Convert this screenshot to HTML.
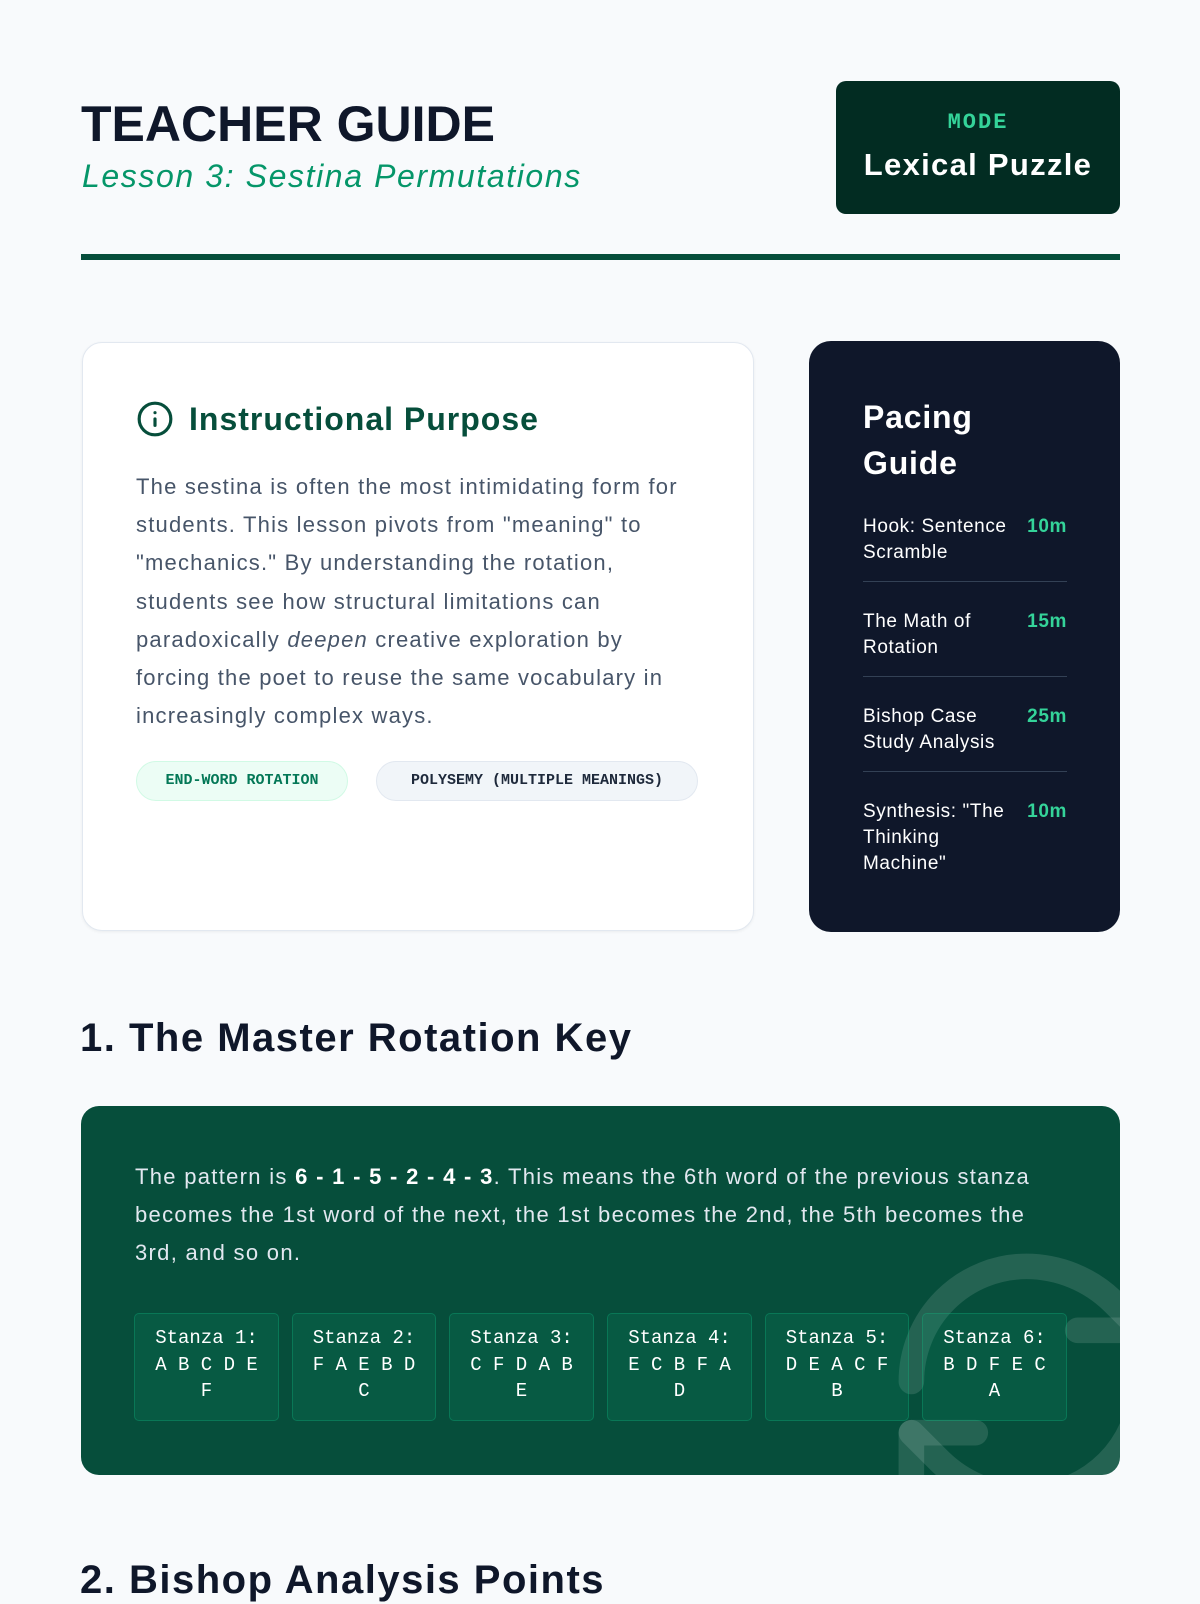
<!DOCTYPE html>
<html><head><meta charset="utf-8"><style>
*{margin:0;padding:0;box-sizing:border-box}
body{width:1200px;height:1600px;background:#f8fafc;font-family:"Liberation Sans",sans-serif;position:relative;overflow:hidden}
.a{position:absolute;white-space:nowrap}
.mono{font-family:"Liberation Mono",monospace}
</style></head><body>
<div class="a" style="left:81px;top:94px;font-size:50px;font-weight:bold;color:#0f172a;letter-spacing:0px;line-height:60px">TEACHER GUIDE</div>
<div class="a" style="left:82px;top:156px;font-size:32px;font-style:italic;color:#059669;line-height:40px;letter-spacing:1.6px">Lesson 3: Sestina Permutations</div>
<div class="a" style="left:836px;top:81px;width:284px;height:133px;background:#022c22;border-radius:10px"></div>
<div class="a mono" style="left:836px;width:284px;top:110px;text-align:center;font-size:22px;font-weight:bold;color:#34d399;letter-spacing:2px;line-height:26px">MODE</div>
<div class="a" style="left:836px;width:284px;top:146px;text-align:center;font-size:31px;font-weight:bold;color:#fff;line-height:38px;letter-spacing:1.3px">Lexical Puzzle</div>
<div class="a" style="left:81px;top:254px;width:1039px;height:6px;background:#064e3b"></div>

<div class="a" style="left:82px;top:342px;width:672px;height:589px;background:#fff;border:1px solid #e2e8f0;border-radius:20px;box-shadow:0 1px 3px rgba(0,0,0,.06)"></div>
<svg class="a" style="left:136px;top:400px" width="38" height="38" viewBox="0 0 24 24" fill="none" stroke="#064e3b" stroke-width="2" stroke-linecap="round"><circle cx="12" cy="12" r="10"/><path d="M12 16v-4M12 8h.01"/></svg>
<div class="a" style="left:189px;top:399px;font-size:32px;font-weight:bold;color:#064e3b;line-height:40px;letter-spacing:1px">Instructional Purpose</div>
<div class="a" style="left:136px;top:468px;font-size:22px;color:#475569;line-height:38.2px;letter-spacing:1.2px">The sestina is often the most intimidating form for<br>students. This lesson pivots from "meaning" to<br>"mechanics." By understanding the rotation,<br>students see how structural limitations can<br>paradoxically <i>deepen</i> creative exploration by<br>forcing the poet to reuse the same vocabulary in<br>increasingly complex ways.</div>
<div class="a mono" style="left:136px;top:761px;width:212px;height:40px;border-radius:20px;background:#ecfdf5;border:1px solid #d1fae5;color:#047857;font-size:15px;font-weight:bold;line-height:38px;text-align:center">END-WORD ROTATION</div>
<div class="a mono" style="left:376px;top:761px;width:322px;height:40px;border-radius:20px;background:#f1f5f9;border:1px solid #e2e8f0;color:#1e293b;font-size:15px;font-weight:bold;line-height:38px;text-align:center">POLYSEMY (MULTIPLE MEANINGS)</div>

<div class="a" style="left:809px;top:341px;width:311px;height:591px;background:#0f172a;border-radius:22px"></div>
<div class="a" style="left:863px;top:394px;font-size:32px;font-weight:bold;color:#fff;line-height:46px;letter-spacing:0.8px">Pacing<br>Guide</div>
<div class="a" style="left:863px;top:514px;width:204px;font-size:19px;color:#fff;line-height:26px;letter-spacing:0.6px">Hook: Sentence<br>Scramble<span style="position:absolute;right:0;top:0;color:#34d399;font-weight:bold">10m</span></div>
<div class="a" style="left:863px;top:581px;width:204px;height:1px;background:#334155"></div>
<div class="a" style="left:863px;top:609px;width:204px;font-size:19px;color:#fff;line-height:26px;letter-spacing:0.6px">The Math of<br>Rotation<span style="position:absolute;right:0;top:0;color:#34d399;font-weight:bold">15m</span></div>
<div class="a" style="left:863px;top:676px;width:204px;height:1px;background:#334155"></div>
<div class="a" style="left:863px;top:704px;width:204px;font-size:19px;color:#fff;line-height:26px;letter-spacing:0.6px">Bishop Case<br>Study Analysis<span style="position:absolute;right:0;top:0;color:#34d399;font-weight:bold">25m</span></div>
<div class="a" style="left:863px;top:771px;width:204px;height:1px;background:#334155"></div>
<div class="a" style="left:863px;top:799px;width:204px;font-size:19px;color:#fff;line-height:26px;letter-spacing:0.6px">Synthesis: "The<br>Thinking<br>Machine"<span style="position:absolute;right:0;top:0;color:#34d399;font-weight:bold">10m</span></div>

<div class="a" style="left:80px;top:1014px;font-size:40px;font-weight:bold;color:#0f172a;line-height:48px;letter-spacing:1.5px">1. The Master Rotation Key</div>
<div class="a" style="left:81px;top:1106px;width:1039px;height:369px;background:#064e3b;border-radius:18px;overflow:hidden">
<svg style="position:absolute;left:792px;top:122px" width="307" height="307" viewBox="0 0 24 24" fill="none" stroke="rgba(255,255,255,0.12)" stroke-width="2" stroke-linecap="round" stroke-linejoin="round"><path d="M3 12a9 9 0 0 1 9-9 9.75 9.75 0 0 1 6.74 2.74L21 8"/><path d="M21 3v5h-5"/><path d="M21 12a9 9 0 0 1-9 9 9.75 9.75 0 0 1-6.74-2.74L3 16"/><path d="M8 16H3v5"/></svg>
<div style="position:absolute;left:54px;top:52px;font-size:22px;color:#e2e8f0;line-height:38px;white-space:nowrap;letter-spacing:1.3px">The pattern is <b style="color:#fff">6 - 1 - 5 - 2 - 4 - 3</b>. This means the 6th word of the previous stanza<br>becomes the 1st word of the next, the 1st becomes the 2nd, the 5th becomes the<br>3rd, and so on.</div>
</div>
<div class="a mono" style="left:134px;top:1313px;font-size:19px;color:#fff;line-height:26.5px">
<div style="position:absolute;left:0;top:0;width:145px;height:108px;background:rgba(16,185,129,0.12);border:1px solid rgba(16,185,129,0.3);border-radius:5px;text-align:center;padding-top:11px">Stanza 1:<br>A B C D E<br>F</div>
<div style="position:absolute;left:158px;top:0;width:144px;height:108px;background:rgba(16,185,129,0.12);border:1px solid rgba(16,185,129,0.3);border-radius:5px;text-align:center;padding-top:11px">Stanza 2:<br>F A E B D<br>C</div>
<div style="position:absolute;left:315px;top:0;width:145px;height:108px;background:rgba(16,185,129,0.12);border:1px solid rgba(16,185,129,0.3);border-radius:5px;text-align:center;padding-top:11px">Stanza 3:<br>C F D A B<br>E</div>
<div style="position:absolute;left:473px;top:0;width:145px;height:108px;background:rgba(16,185,129,0.12);border:1px solid rgba(16,185,129,0.3);border-radius:5px;text-align:center;padding-top:11px">Stanza 4:<br>E C B F A<br>D</div>
<div style="position:absolute;left:631px;top:0;width:144px;height:108px;background:rgba(16,185,129,0.12);border:1px solid rgba(16,185,129,0.3);border-radius:5px;text-align:center;padding-top:11px">Stanza 5:<br>D E A C F<br>B</div>
<div style="position:absolute;left:788px;top:0;width:145px;height:108px;background:rgba(16,185,129,0.12);border:1px solid rgba(16,185,129,0.3);border-radius:5px;text-align:center;padding-top:11px">Stanza 6:<br>B D F E C<br>A</div>
</div>
<div class="a" style="left:80px;top:1556px;font-size:40px;font-weight:bold;color:#0f172a;line-height:48px;letter-spacing:1.5px">2. Bishop Analysis Points</div>
</body></html>
